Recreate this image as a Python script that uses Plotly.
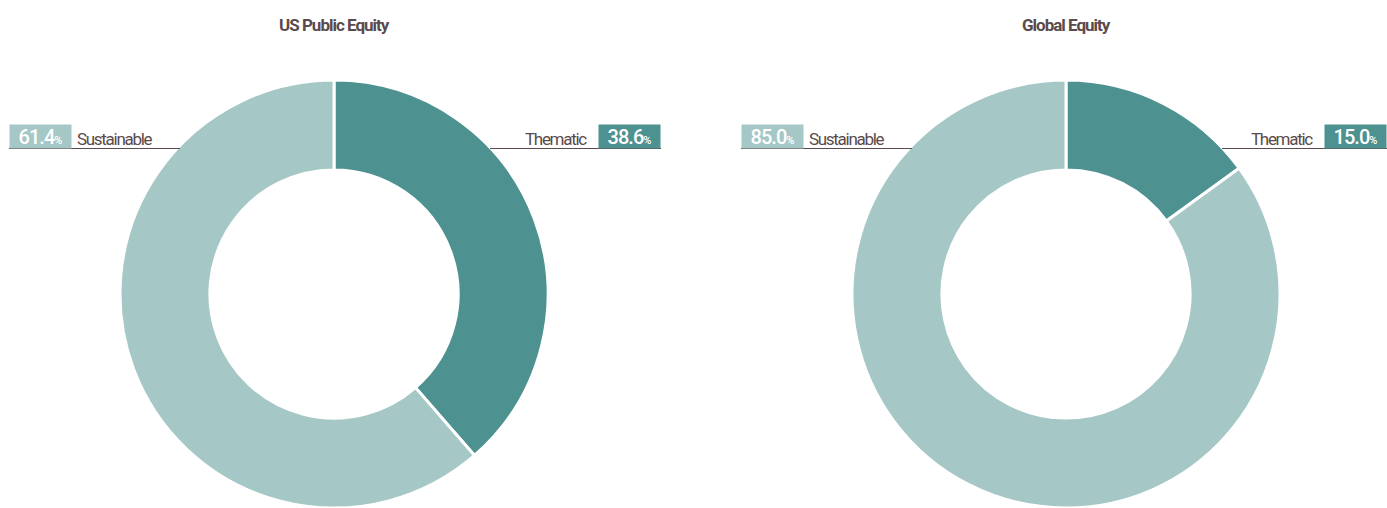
import plotly.graph_objects as go

# Allocation split per equity sleeve
panels = ["US Public Equity", "Global Equity"]
categories = ["Thematic", "Sustainable"]
us_values = [38.6, 61.4]
global_values = [15.0, 85.0]

W, H, T = 1387, 508, 80
FONT = "Roboto, Liberation Sans, sans-serif"
DARK = "#4d9190"
LIGHT = "#a5c7c5"
TEXT = "#5b4a4b"


def px(x):
    return x / W


def py(y):
    return (H - y) / (H - T)


def tight(s, spacing, extra=""):
    return f"<span style='letter-spacing:{spacing}px;{extra}'>{s}</span>"


def font(size, color, weight="normal"):
    return dict(family=FONT, size=size, color=color, weight=weight)


fig = go.Figure()

# pie left/right pixel extents and label geometry per panel
layout_px = [
    dict(x0=120, x1=548, left=9, right=661, lend=180, rstart=490),
    dict(x0=852, x1=1280, left=741, right=1387, lend=912, rstart=1222),
]
series = [us_values, global_values]

annotations = []
shapes = []
for title, vals, g in zip(panels, series, layout_px):
    fig.add_trace(go.Pie(
        labels=categories,
        values=vals,
        hole=0.58,
        sort=False,
        direction="clockwise",
        rotation=0,
        marker=dict(colors=[DARK, LIGHT], line=dict(color="white", width=3)),
        textinfo="none",
        hoverinfo="label+percent",
        showlegend=False,
        domain=dict(x=[px(g["x0"]), px(g["x1"])], y=[0, 1]),
    ))
    cx = (g["x0"] + g["x1"]) / 2
    annotations.append(dict(
        x=px(cx), y=py(25), xref="paper", yref="paper", showarrow=False,
        text=tight(title, -1.0), font=font(17, TEXT, "bold"),
        xanchor="center", yanchor="middle",
    ))
    thematic, sustainable = vals
    # Sustainable label on the left
    annotations.append(dict(
        x=px(g["left"]), y=py(136.5), xref="paper", yref="paper", showarrow=False,
        text=tight(f"{sustainable:.1f}", -1.0) + tight("%", 0, "font-size:11px"),
        font=font(20, "white", 500),
        bgcolor=LIGHT, width=61, height=23, align="center",
        xanchor="left", yanchor="middle", borderpad=0,
    ))
    annotations.append(dict(
        x=px(g["left"] + 66), y=py(138.5), xref="paper", yref="paper", showarrow=False,
        text=tight("Sustainable", -1.3), font=font(17, TEXT),
        xanchor="left", yanchor="middle",
    ))
    shapes.append(dict(
        type="line", xref="paper", yref="paper",
        x0=px(g["left"]), x1=px(g["lend"]), y0=py(148.5), y1=py(148.5),
        line=dict(color=TEXT, width=1.2),
    ))
    # Thematic label on the right
    annotations.append(dict(
        x=px(g["right"]), y=py(136.5), xref="paper", yref="paper", showarrow=False,
        text=tight(f"{thematic:.1f}", -1.0) + tight("%", 0, "font-size:11px"),
        font=font(20, "white", 500),
        bgcolor=DARK, width=61, height=23, align="center",
        xanchor="right", yanchor="middle", borderpad=0,
    ))
    annotations.append(dict(
        x=px(g["right"] - 72), y=py(138.5), xref="paper", yref="paper", showarrow=False,
        text=tight("Thematic", -1.3), font=font(17, TEXT),
        xanchor="right", yanchor="middle",
    ))
    shapes.append(dict(
        type="line", xref="paper", yref="paper",
        x0=px(g["rstart"]), x1=px(g["right"]), y0=py(148.5), y1=py(148.5),
        line=dict(color=TEXT, width=1.2),
    ))

fig.update_layout(
    width=W, height=H,
    margin=dict(l=0, r=0, t=T, b=0),
    paper_bgcolor="white", plot_bgcolor="white",
    annotations=annotations, shapes=shapes,
    font=dict(family=FONT),
)

fig.write_html("out.html", config={"displayModeBar": False})
